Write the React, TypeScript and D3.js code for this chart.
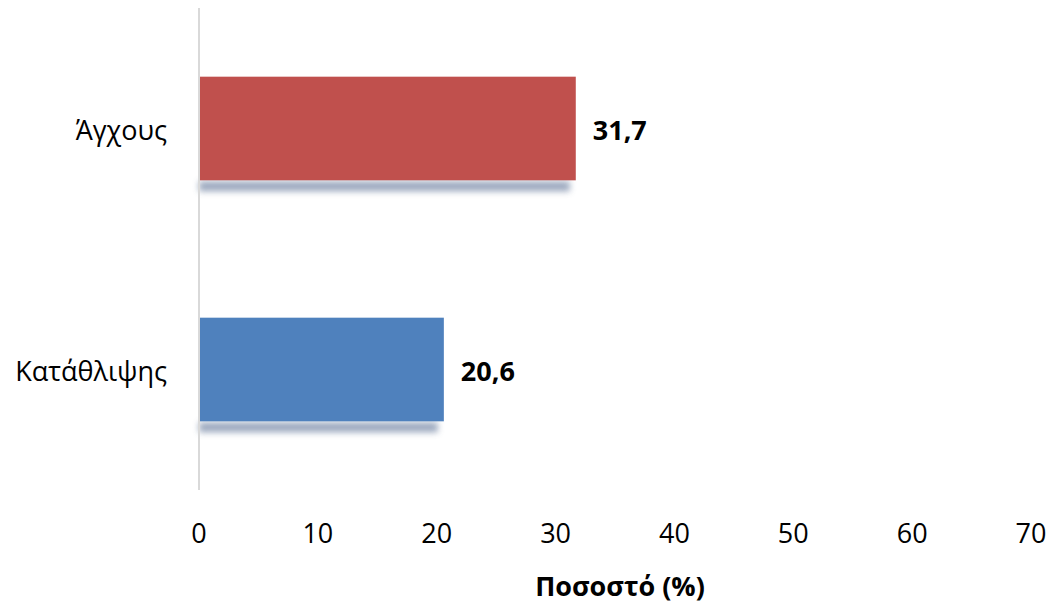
import React from "react";
import * as d3 from "d3";

const categories = ["Άγχους", "Κατάθλιψης"];
const values = [31.7, 20.6];
const valueLabels = ["31,7", "20,6"];
const colors = ["#C0504D", "#4F81BD"];
const xTicks = [0, 10, 20, 30, 40, 50, 60, 70];
const xTitle = "Ποσοστό (%)";

const W = 1057;
const H = 608;

export default function App() {
  const x = d3.scaleLinear().domain([0, 70]).range([199, 1031]);
  const y = d3.scaleBand().domain(categories).range([8, 490]).paddingInner(0.57).paddingOuter(0.285);
  const font = "'Open Sans', Calibri, sans-serif";
  const fs = 27;
  return (
    <svg width={W} height={H} style={{ position: "absolute", left: 0, top: 0 }} fontFamily={font}>
      <defs>
        <filter id="shadowBlur" x="-10%" y="-100%" width="120%" height="300%">
          <feGaussianBlur stdDeviation="3" />
        </filter>
      </defs>
      <rect width={W} height={H} fill="#fff" />
      {categories.map((c, i) => {
        const y0 = y(c)!;
        const bw = y.bandwidth();
        const x1 = x(values[i]);
        return (
          <g key={c}>
            <rect x={x(0)} y={y0 + bw + 1} width={x1 - x(0) - 6} height={10} fill="#8a9ab3" opacity={0.85} filter="url(#shadowBlur)" />
            <rect x={x(0)} y={y0} width={x1 - x(0)} height={bw} fill={colors[i]} />
            <text x={x1 + 17} y={y0 + bw / 2 + 1} dominantBaseline="central" fontSize={fs} fontWeight="bold" fill="#000">
              {valueLabels[i]}
            </text>
            <text x={167} y={y0 + bw / 2 + 1} dominantBaseline="central" textAnchor="end" fontSize={fs} fill="#000">
              {c}
            </text>
          </g>
        );
      })}
      <line x1={x(0)} x2={x(0)} y1={8} y2={490} stroke="#d9d9d9" strokeWidth={2} />
      {xTicks.map((t) => (
        <text key={t} x={x(t)} y={532} textAnchor="middle" dominantBaseline="central" fontSize={fs} fill="#000">
          {t}
        </text>
      ))}
      <text x={620} y={585} textAnchor="middle" dominantBaseline="central" fontSize={fs} fontWeight="bold" fill="#000">
        {xTitle}
      </text>
    </svg>
  );
}
